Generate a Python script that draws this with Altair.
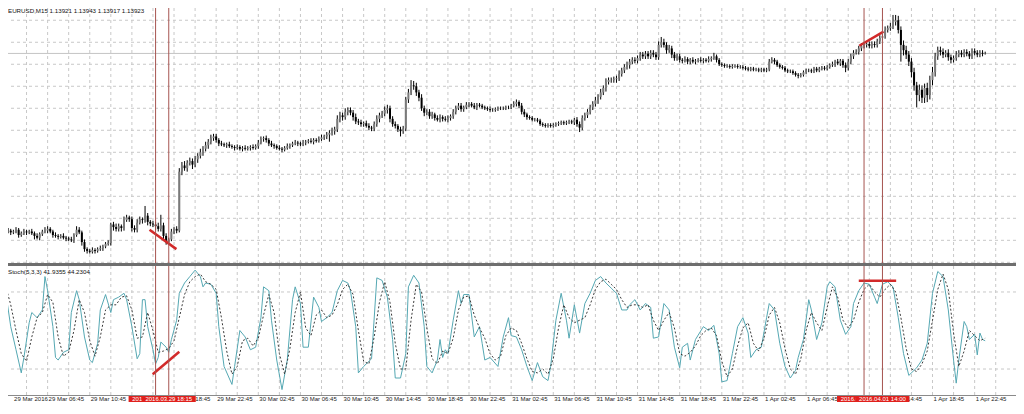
import altair as alt
import pandas as pd

title_text = "EURUSD,M15  1.13921 1.13943 1.13917 1.13923"
stoch_text = "Stoch(5,3,3) 41.9355 44.2304"

# M15 closes in pips above 1.1000 (bar 0 = 29 Mar 2016 02:45)
close_pips = [
    190,191,189,190,192,186,188,190,189,190,188,185,183,187,190,191,193,190,186,185,
    184,185,183,182,181,180,186,192,189,178,170,168,167,169,168,170,171,173,176,177,
    198,195,193,196,194,203,206,204,194,192,200,204,203,208,201,199,198,196,193,197,
    185,178,181,190,193,191,258,265,262,268,270,266,272,276,280,284,288,292,296,298,
    294,290,289,288,289,287,286,285,286,284,285,284,285,286,285,287,291,295,296,294,
    290,288,287,285,284,283,285,287,288,290,291,290,289,291,292,293,292,294,293,295,
    297,298,300,302,304,306,318,322,320,326,328,325,320,315,314,312,313,310,308,307,
    312,318,322,324,328,330,318,312,310,306,304,307,340,348,356,355,348,342,330,325,
    326,321,323,319,317,320,318,317,319,321,326,330,333,329,331,334,335,333,331,334,
    333,331,330,329,328,328,329,330,330,330,331,331,333,335,337,333,326,323,320,319,
    317,317,316,312,311,310,311,310,311,312,313,314,313,314,315,314,317,312,308,319,
    322,326,331,335,339,343,348,353,360,362,362,363,364,369,373,377,379,383,385,384,
    387,391,389,392,389,393,391,388,402,405,402,396,398,391,387,389,385,384,386,383,
    385,383,384,385,384,385,384,386,387,389,385,380,379,378,378,377,378,378,377,377,
    376,375,374,375,374,374,373,374,373,374,383,385,383,379,377,376,373,372,372,370,
    368,367,368,371,373,373,372,375,373,375,376,375,377,379,380,383,381,384,379,376,
    383,389,393,394,398,401,402,403,401,403,402,406,410,412,419,421,423,428,430,419,
    402,396,391,383,371,356,345,351,342,353,345,362,371,389,396,394,391,393,388,385,
    387,391,393,391,394,392,389,395,393,391,393,392,392.3,
]
wick_up = [
    2,3,2,2,3,2,2,3,2,2,3,2,3,2,2,4,3,2,2,3,
    2,2,3,2,2,3,2,4,3,2,3,2,2,3,2,2,3,2,2,3,
    2,3,4,3,2,4,3,2,3,3,4,3,2,11,3,2,3,3,4,12,
    3,3,2,3,2,3,4,4,5,3,4,3,4,3,4,3,4,3,4,3,
    3,2,3,2,2,3,2,2,3,2,2,3,2,2,3,2,3,3,2,3,
    2,3,2,2,3,2,2,3,2,2,3,2,2,3,2,2,3,2,2,3,
    3,2,3,3,4,3,4,4,3,4,3,3,3,4,3,3,2,3,3,2,
    3,4,3,3,4,4,3,3,3,2,3,3,3,4,6,5,4,3,4,3,
    3,3,3,2,3,3,2,3,3,2,3,3,3,3,2,3,2,2,3,2,
    2,2,2,2,3,2,2,2,2,2,2,2,2,3,3,2,3,3,2,2,
    2,2,2,2,2,2,2,2,2,2,2,2,2,2,2,2,2,3,3,3,
    3,3,3,3,4,3,4,3,4,3,3,3,3,4,3,3,4,3,3,3,
    3,3,3,3,3,3,3,3,4,6,4,3,4,3,3,3,3,2,3,2,
    2,3,2,2,3,2,2,3,2,4,2,2,2,2,2,2,2,2,2,2,
    2,2,2,2,2,2,2,2,2,2,3,3,2,2,2,2,2,2,2,2,
    2,2,2,2,2,2,2,2,2,2,2,2,2,2,3,2,3,2,2,3,
    3,3,3,3,3,3,3,2,3,3,3,3,3,3,4,3,4,8,6,5,
    4,5,5,4,4,5,4,6,5,5,6,5,6,4,4,4,4,3,4,3,
    3,4,3,3,3,3,3,3,3,3,3,3,2,
]
wick_dn = [
    2,2,3,2,2,3,2,2,3,2,2,4,2,3,2,2,3,2,3,2,
    3,2,2,3,2,2,3,2,2,4,3,3,2,2,3,2,2,3,2,2,
    3,4,3,3,4,3,2,3,4,3,3,2,4,3,4,3,3,4,3,3,
    4,3,3,2,3,3,2,4,3,4,3,5,3,4,3,4,3,4,3,3,
    3,3,2,2,3,2,2,3,2,2,3,2,2,3,2,2,3,2,3,3,
    3,2,3,2,2,3,2,2,3,2,2,3,2,2,3,2,2,3,2,2,
    2,3,3,8,3,4,3,4,4,3,4,3,4,3,3,3,3,2,3,3,
    3,3,4,3,3,4,4,3,3,3,6,3,3,4,3,4,4,4,3,4,
    3,3,3,3,2,3,3,2,3,3,3,3,2,3,3,2,3,2,2,3,
    2,2,2,2,2,2,2,2,2,2,2,2,2,2,3,3,3,3,3,2,
    2,2,2,2,2,2,2,2,2,2,2,2,2,2,2,2,3,3,5,3,
    3,3,3,3,3,4,3,3,4,3,3,3,4,3,3,3,3,4,3,3,
    3,3,3,3,3,3,3,3,3,3,3,4,3,4,3,3,3,3,2,3,
    3,2,3,2,2,3,2,2,3,2,3,2,2,2,2,2,2,2,2,2,
    2,2,2,2,2,2,2,2,2,2,2,2,3,2,2,2,2,2,2,2,
    2,3,2,2,2,2,2,2,2,2,2,2,2,2,2,3,2,3,3,5,
    3,3,3,2,3,3,3,3,3,3,3,3,3,3,3,3,3,3,4,4,
    19,6,5,5,6,6,14,7,6,6,8,5,6,5,4,4,4,3,4,4,
    3,3,3,3,3,3,3,3,3,3,3,3,1,
]

# Stochastic %K (main) read at bar positions
k_bar = [0,2,4,6,7,9,10,12,14,15,16,18,19,20,22,24,25,27,28,30,32,33,35,36,38,40,41,43,45,46,
         48,50,51,52,53,54,56,57,58,59,61,62,63,65,66,68,70,72,74,75,76,78,80,81,83,86,87,89,91,93,
         95,97,98,100,101,103,105,107,109,110,112,113,115,117,119,120,122,124,126,128,130,131,133,134,136,139,141,143,145,147,
         148,150,152,153,155,157,159,160,162,164,165,166,167,168,170,172,173,174,176,178,180,181,182,184,187,189,191,192,194,196,
         198,200,202,204,206,207,209,211,213,214,216,218,220,222,224,226,228,230,232,234,236,237,239,241,243,245,246,248,250,252,
         254,256,257,259,260,262,265,267,269,271,272,274,276,278,280,282,283,285,287,289,290,292,294,296,298,300,301,303,305,306,
         308,310,312,313,315,317,319,321,322,324,326,328,330,331,333,335,337,339,341,343,345,346,348,350,352,354,356,358,360,361,
         362,364,365,366,368,369,370,371,372]
k_val = [81,53,35,17,29,56,64,60,66,92,81,53,29,27,33,35,64,81,74,45,27,25,40,66,78,64,74,76,79,74,
         53,28,32,74,74,53,35,24,29,41,37,33,43,58,79,87,92,97,92,84,87,86,79,53,22,8,22,50,45,35,
         37,60,84,81,58,27,4,27,74,84,71,37,37,76,68,57,60,64,81,89,87,81,53,17,22,28,91,89,76,43,
         13,13,32,84,93,87,53,22,17,27,43,29,35,32,58,81,71,78,78,45,53,40,27,29,22,45,60,46,45,35,
         22,11,25,14,11,22,58,79,58,44,70,48,71,79,89,92,87,83,79,66,66,70,74,66,71,68,44,45,71,66,
         37,21,37,40,27,43,53,50,54,32,10,11,32,53,60,48,29,35,37,60,71,66,40,22,13,19,29,43,74,66,
         43,56,84,88,84,58,47,53,71,81,87,86,76,71,86,88,84,60,32,15,19,21,27,40,79,96,92,66,27,9,
         27,57,53,43,47,31,48,43,42]

# Stochastic signal (dashed) read every second bar
d_val = [85,70,50,32,26,45,60,64,78,72,
         45,30,33,50,74,64,42,30,45,66,
         70,70,76,77,66,44,45,64,50,33,
         34,36,42,60,78,88,92,94,88,86,
         82,60,34,16,22,42,44,38,44,62,
         78,64,32,16,36,64,80,52,46,62,
         66,60,62,70,82,86,78,50,26,24,
         45,72,88,72,40,20,20,58,86,80,
         52,28,24,34,32,44,66,76,77,62,
         52,44,32,27,30,46,52,50,40,28,
         18,17,20,16,28,52,70,60,56,58,
         60,70,82,88,90,86,82,74,68,70,
         70,68,70,58,50,58,64,52,32,30,
         33,38,46,50,52,46,26,14,20,38,
         52,56,40,34,44,62,68,56,36,20,
         16,28,50,64,56,50,68,84,76,58,
         52,58,72,82,86,80,76,82,86,80,
         60,36,20,18,24,34,58,82,94,82,
         48,22,34,50,46,42,44]
d_bar = list(range(0, 373, 2))

# time-axis labels (the 29 Mar 14:45 and 1 Apr 10:45 labels sit under the red boxes)
tick_bars = [2.9, 16, 32, 64, 80, 96, 112, 128, 144, 160, 176, 192, 208, 224, 240, 256, 272, 288, 304, 336, 352, 368]
tick_labels = ["29 Mar 2016", "29 Mar 06:45", "29 Mar 10:45", "29 Mar 18:45", "29 Mar 22:45",
               "30 Mar 02:45", "30 Mar 06:45", "30 Mar 10:45", "30 Mar 14:45", "30 Mar 18:45", "30 Mar 22:45",
               "31 Mar 02:45", "31 Mar 06:45", "31 Mar 10:45", "31 Mar 14:45", "31 Mar 18:45", "31 Mar 22:45",
               "1 Apr 02:45", "1 Apr 06:45", "1 Apr 14:45", "1 Apr 18:45", "1 Apr 22:45"]

vline_bars = [57, 62, 326, 333]
vline_text = ["2016.03.29 17:00", "2016.03.29 18:15", "2016.04.01 12:15", "2016.04.01 14:00"]

ptrend_seg = [1, 1, 2, 2]
ptrend_bar = [54.7, 64.9, 324.2, 333.4]
ptrend_price = [1.1192, 1.1170, 1.1401, 1.1417]
strend_seg = [1, 1, 2, 2]
strend_bar = [55.9, 66.0, 324.0, 338.2]
strend_val = [15.9, 33.5, 88.8, 88.8]

bid_price = 1.13923
grid_prices = [1.1155, 1.1180, 1.1205, 1.1230, 1.1255, 1.1280, 1.1305, 1.1330, 1.1355, 1.1380, 1.1405, 1.1430]
stoch_levels = [20, 80]
grid_bars = list(range(8, 385, 8))

# ---- build tables ----
rows = []
prev = close_pips[0]
for i, (c, u, d) in enumerate(zip(close_pips, wick_up, wick_dn)):
    o = prev
    rows.append({
        "i": i,
        "o": 1.1 + o / 10000.0,
        "c": 1.1 + c / 10000.0,
        "h": 1.1 + (max(o, c) + u) / 10000.0,
        "l": 1.1 + (min(o, c) - d) / 10000.0,
        "bull": c >= o,
    })
    prev = c
candles = pd.DataFrame(rows)
kdf = pd.DataFrame({"i": k_bar, "v": k_val})
ddf = pd.DataFrame({"i": d_bar, "v": d_val})
ticks = pd.DataFrame({"i": tick_bars, "label": tick_labels})
vlines = pd.DataFrame({"i": vline_bars, "label": vline_text})
ptr = pd.DataFrame({"seg": ptrend_seg, "i": ptrend_bar, "p": ptrend_price})
st = pd.DataFrame({"seg": strend_seg, "i": strend_bar, "v": strend_val})

W = 1008
H = 388
X = alt.Scale(domain=[2.857, 2.857 + W / 2.66], nice=False, zero=False)
YP = alt.Scale(domain=[1.100314, 1.144391], nice=False, zero=False)
YS = alt.Scale(domain=[-1.01, 301.17], nice=False, zero=False)

FONT = "Liberation Sans"
RED_LINE = "#a65450"
TREND_RED = "#d22a2a"
GRID = "#c8c8c8"
LABEL_Y = 391

def xenc(field="i:Q"):
    return alt.X(field, scale=X, axis=None)

# vertical dashed grid over both panes
vgrid = alt.Chart(pd.DataFrame({"i": grid_bars})).mark_rule(
    color=GRID, strokeWidth=1, strokeDash=[3, 3]
).encode(x=xenc(), y=alt.value(0), y2=alt.value(H))

pgrid = alt.Chart(pd.DataFrame({"p": grid_prices})).mark_rule(
    color=GRID, strokeWidth=1, strokeDash=[3, 3]
).encode(y=alt.Y("p:Q", scale=YP, axis=None))
bid = alt.Chart(pd.DataFrame({"p": [bid_price]})).mark_rule(color="#c4c4c4", strokeWidth=1).encode(
    y=alt.Y("p:Q", scale=YP, axis=None)
)
wicks = alt.Chart(candles).mark_rule(color="#000000", strokeWidth=1, clip=True).encode(
    x=xenc(),
    y=alt.Y("l:Q", scale=YP, axis=None),
    y2="h:Q",
)
bodies = alt.Chart(candles).mark_bar(width=2, clip=True).encode(
    x=xenc(),
    y=alt.Y("o:Q", scale=YP, axis=None),
    y2="c:Q",
    color=alt.condition(alt.datum.bull, alt.value("#7a7a7a"), alt.value("#000000")),
)
ptrend = alt.Chart(ptr).mark_line(color=TREND_RED, strokeWidth=2.5).encode(
    x=xenc(),
    y=alt.Y("p:Q", scale=YP, axis=None),
    detail="seg:N",
)
price_group = alt.layer(pgrid, bid, wicks, bodies, ptrend)

sgrid = alt.Chart(pd.DataFrame({"v": stoch_levels})).mark_rule(
    color=GRID, strokeWidth=1, strokeDash=[3, 3]
).encode(y=alt.Y("v:Q", scale=YS, axis=None))
kline = alt.Chart(kdf).mark_line(color="#55a8b3", strokeWidth=1, clip=True).encode(
    x=xenc(),
    y=alt.Y("v:Q", scale=YS, axis=None),
)
dline = alt.Chart(ddf).mark_line(color="#3a3a3a", strokeWidth=1, strokeDash=[2, 2], clip=True).encode(
    x=xenc(),
    y=alt.Y("v:Q", scale=YS, axis=None),
)
strend = alt.Chart(st).mark_line(color=TREND_RED, strokeWidth=2.5).encode(
    x=xenc(),
    y=alt.Y("v:Q", scale=YS, axis=None),
    detail="seg:N",
)
stoch_group = alt.layer(sgrid, kline, dline, strend)

vrules = alt.Chart(vlines).mark_rule(color=RED_LINE, strokeWidth=1).encode(
    x=xenc(), y=alt.value(0), y2=alt.value(H)
)
separator = alt.Chart(pd.DataFrame({"a": [0]})).mark_rule(color="#6e6e6e", strokeWidth=3).encode(
    y=alt.value(256.5)
)
bottom_line = alt.Chart(pd.DataFrame({"a": [0]})).mark_rule(color="#8a8a8a", strokeWidth=1).encode(
    y=alt.value(H - 0.5)
)
tick_text = alt.Chart(ticks).mark_text(
    align="left", baseline="middle", dx=1, fontSize=6.0, font=FONT, color="#222222"
).encode(x=xenc(), y=alt.value(LABEL_Y), text="label:N")

box1 = alt.Chart(vlines.iloc[[0, 2]]).mark_rect(width=54, color="#e0201c").encode(
    x=xenc(), y=alt.value(H), y2=alt.value(H + 6)
)
txt1 = alt.Chart(vlines.iloc[[0, 2]]).mark_text(
    align="center", baseline="middle", fontSize=6.0, font=FONT, color="white"
).encode(x=xenc(), y=alt.value(LABEL_Y), text="label:N")
box2 = alt.Chart(vlines.iloc[[1, 3]]).mark_rect(width=54, color="#e0201c").encode(
    x=xenc(), y=alt.value(H), y2=alt.value(H + 6)
)
txt2 = alt.Chart(vlines.iloc[[1, 3]]).mark_text(
    align="center", baseline="middle", fontSize=6.0, font=FONT, color="white"
).encode(x=xenc(), y=alt.value(LABEL_Y), text="label:N")

title_mark = alt.Chart(pd.DataFrame({"t": [title_text]})).mark_text(
    align="left", baseline="middle", fontSize=6.2, font=FONT, color="#111111"
).encode(x=alt.value(0), y=alt.value(3), text="t:N")
stoch_title = alt.Chart(pd.DataFrame({"t": [stoch_text]})).mark_text(
    align="left", baseline="middle", fontSize=6.2, font=FONT, color="#111111"
).encode(x=alt.value(0), y=alt.value(263.7), text="t:N")

chart = alt.layer(
    vgrid, price_group, stoch_group, vrules, separator, bottom_line,
    tick_text, box1, txt1, box2, txt2, title_mark, stoch_title,
).resolve_scale(y="independent").properties(
    width=W, height=H,
    autosize=alt.AutoSizeParams(type="none"),
    padding={"left": 0, "top": 0, "right": 0, "bottom": 6},
    background="white",
).configure_view(stroke=None)

chart.save("out.html", embed_options={"renderer": "svg", "actions": False})
